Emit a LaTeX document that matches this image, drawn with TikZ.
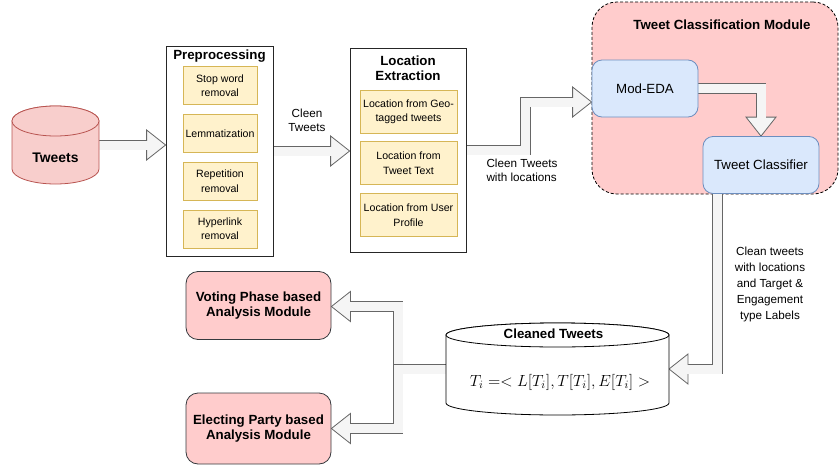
\documentclass[tikz,border=0pt]{standalone}
\usepackage{fontspec}
\setmainfont{Liberation Sans}
\usetikzlibrary{positioning,calc}

\definecolor{pinkfill}{HTML}{FFCCCC}
\definecolor{cylfill}{HTML}{F8CECC}
\definecolor{redline}{HTML}{B85450}
\definecolor{yelfill}{HTML}{FFF2CC}
\definecolor{yelline}{HTML}{D6B656}
\definecolor{bluefill}{HTML}{DAE8FC}
\definecolor{blueline}{HTML}{6C8EBF}
\definecolor{arrfill}{HTML}{F5F5F5}
\definecolor{arrline}{HTML}{666666}
\definecolor{darkline}{HTML}{36393D}

\pgfdeclarelayer{back}
\pgfdeclarelayer{flow}
\pgfsetlayers{back,flow,main}

\newcommand{\bigtxt}{\fontsize{13.3}{15.3}\selectfont}
\newcommand{\smalltxt}{\fontsize{10.6}{14.3}\selectfont}
\newcommand{\notetxt}{\fontsize{11.7}{16}\selectfont}

% fat arrow: #1 path up to the last bend, #2 last bend, #3 tip
\newcommand{\flexarrow}[3]{%
  \path ($(#3)!19pt!(#2)$) coordinate (fb);
  \draw[flexout] #1 -- (fb);
  \draw[flexhead] ($(fb)!15pt!90:(#3)$) -- (#3) -- ($(fb)!15pt!-90:(#3)$) -- cycle;
  \draw[flexin] #1 -- ($(fb)!1.5pt!(#3)$);
}

% drum round a node: #1 node, #2 x radius, #3 y radius, #4 style
\newcommand{\drum}[4]{%
  \draw[#4] ($(#1.north west)+(0,#3)$) -- ($(#1.south west)+(0,-#3)$)
    arc[start angle=180, end angle=0, x radius=#2, y radius=#3]
    -- ($(#1.north east)+(0,#3)$)
    arc[start angle=0, end angle=-180, x radius=#2, y radius=#3] -- cycle;
  \draw[#4] ($(#1.north)+(0,#3)$) ellipse[x radius=#2, y radius=#3];
}

\begin{document}
\begin{tikzpicture}[x=1pt, y=-1pt,
  box/.style={draw=black!85, fill=white, line width=0.8pt},
  item/.style={draw=yelline, fill=yelfill, line width=0.8pt, inner sep=2pt,
    minimum width=74, minimum height=38, align=center, font=\smalltxt},
  loc item/.style={item, minimum width=97, minimum height=43},
  blue box/.style={draw=blueline, fill=bluefill, line width=0.8pt, rounded corners=10,
    minimum width=106, minimum height=57, font=\bigtxt},
  module/.style={draw=darkline, fill=pinkfill, line width=0.8pt, rounded corners=12,
    minimum width=145, minimum height=68, align=center, font=\bigtxt\bfseries},
  slot/.style={inner sep=0pt, outer sep=0pt},
  note/.style={font=\notetxt, align=center},
  flexout/.style={draw=arrline, line width=10.6pt, line join=miter},
  flexin/.style={draw=arrfill, line width=9pt, line join=miter},
  flexhead/.style={draw=arrline, fill=arrfill, line width=0.8pt, line join=miter}]

\useasboundingbox (0,0) rectangle (839,469);

%%% input
\node[slot, minimum width=87, minimum height=78] (tweets) at (55.5,145) {};
\drum{tweets}{43.5}{15}{draw=redline, fill=cylfill, line width=0.8pt}
\node[font=\fontsize{13.9}{16}\selectfont\bfseries] (tweetslbl) at (55.5,158) {Tweets};

%%% preprocessing
\node[box, minimum width=107, minimum height=210] (pre) at (219.5,151) {};
\node[font=\bigtxt\bfseries] (pretitle) at (219.5,56) {Preprocessing};
\node[item] (stop) at (220,85.5) {Stop word\\removal};
\node[item, below=9pt of stop] (lemma) {Lemmatization};
\node[item, below=9pt of lemma] (rep) {Repetition\\removal};
\node[item, below=9pt of rep] (hyper) {Hyperlink\\removal};

%%% location extraction
\node[box, minimum width=116, minimum height=204] (loc) at (408,150) {};
\node[font=\bigtxt\bfseries, align=center] (loctitle) at (408,68) {Location\\Extraction};
\node[loc item] (geo) at (408.5,111.5) {Location from Geo-\\tagged tweets};
\node[loc item, below=8pt of geo] (ttext) {Location from\\Tweet Text};
\node[loc item, below=8pt of ttext] (user) {Location from User\\Profile};

%%% classification module
\begin{pgfonlayer}{back}
\node[draw=black, dash pattern=on 3pt off 2pt, fill=pinkfill, line width=0.8pt,
  rounded corners=25, minimum width=246, minimum height=192] (tcm) at (715,98) {};
\end{pgfonlayer}
\node[font=\bigtxt\bfseries] (tcmtitle) at (722,25) {Tweet Classification Module};
\node[blue box] (eda) at (645,88.5) {Mod-EDA};
\node[blue box, minimum width=116] (clf) at (761,165) {Tweet Classifier};

%%% cleaned tweets
\node[slot, minimum width=223, minimum height=92] (clean) at (557.5,369) {};
\drum{clean}{111.5}{12}{draw=black, fill=white, line width=0.8pt}
\node[font=\bigtxt\bfseries] (cleantitle) at (553.5,334) {Cleaned Tweets};
\node[font=\fontsize{14.4}{17}\selectfont] (formula) at (560,382)
  {\scalebox{1.12}{$T_i =< L[T_i], T[T_i], E[T_i] >$}};

%%% analysis modules
\node[module] (vote) at (258.5,305.5) {Voting Phase based\\Analysis Module};
\node[module, minimum height=71] (elect) at (258.5,428.5) {Electing Party based\\Analysis Module};

%%% labels
\node[note, font=\fontsize{11.7}{14}\selectfont] (lbl1) at (307,120) {Cleen\\Tweets};
\node[note, font=\fontsize{11.7}{14}\selectfont, align=left, anchor=west] (lbl2) at (483,170) {Cleen Tweets\\with locations};
\node[note] (lbl3) at (770,284) {Clean tweets\\with locations\\and Target \&\\Engagement\\type Labels};

%%% arrows
\begin{pgfonlayer}{flow}
\coordinate (a1) at (tweets.east -| pre.west);
\flexarrow{(tweets.east)}{tweets.east}{a1}

\coordinate (a2) at (pre.east -| loc.west);
\flexarrow{(pre.east)}{pre.east}{a2}

\coordinate (a3) at ($(eda.west)+(0,13.5)$);
\coordinate (b1) at ($(loc.east)+(59,0)$);
\coordinate (b2) at (b1 |- a3);
\flexarrow{(loc.east) -- (b1) -- (b2)}{b2}{a3}

\coordinate (a4) at (clf.north);
\coordinate (b3) at (eda.east -| a4);
\flexarrow{(eda.east) -- (b3)}{b3}{a4}

\coordinate (c0) at ($(clf.south west)+(15,0)$);
\coordinate (a5) at (clean.east);
\coordinate (b4) at (c0 |- a5);
\flexarrow{(c0) -- (b4)}{b4}{a5}

\coordinate (b5) at ($(clean.west)+(-48,0)$);
\coordinate (a6) at ($(vote.east)+(0,1)$);
\coordinate (b6) at (b5 |- a6);
\flexarrow{(clean.west) -- (b5) -- (b6)}{b6}{a6}

\coordinate (a7) at (elect.east);
\coordinate (b7) at (b5 |- a7);
\flexarrow{(clean.west) -- (b5) -- (b7)}{b7}{a7}
\end{pgfonlayer}

\end{tikzpicture}
\end{document}
